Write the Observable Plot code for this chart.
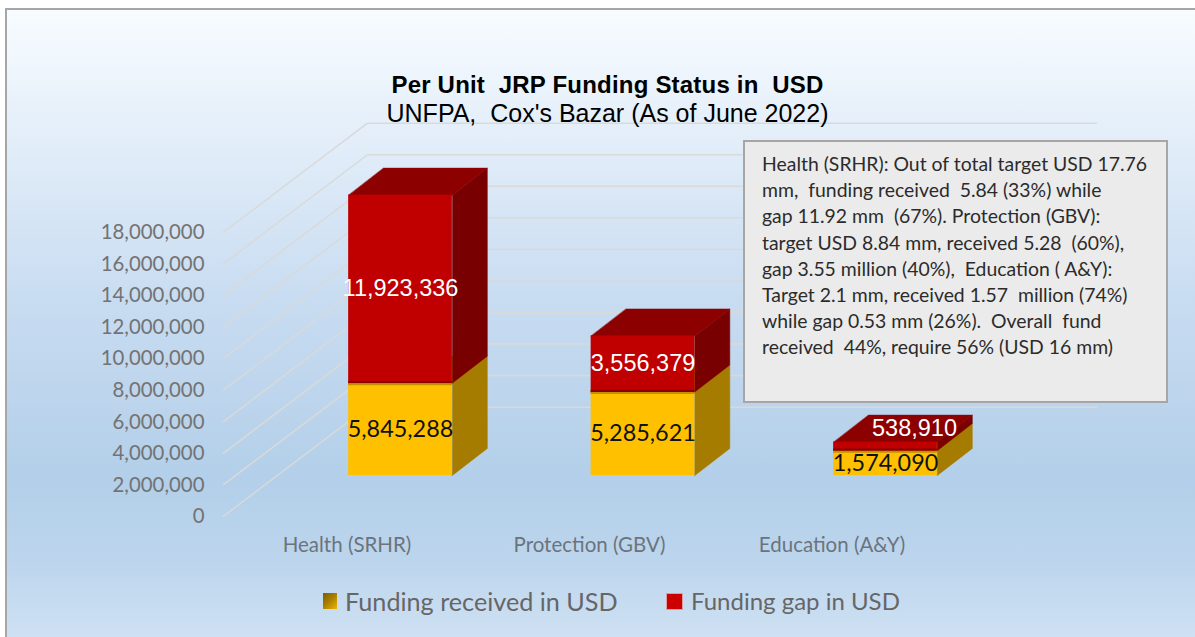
<!DOCTYPE html>
<html><head><meta charset="utf-8">
<script src="https://cdn.jsdelivr.net/npm/d3@7"></script>
<script src="https://cdn.jsdelivr.net/npm/@observablehq/plot@0.6"></script>
<style>
html,body{margin:0;padding:0;background:#fff;overflow:hidden;width:1195px;height:637px}
#panel{position:absolute;left:5px;top:8px;width:1190px;height:629px;border-left:2.5px solid #a6a6a6;border-top:2.5px solid #a6a6a6;box-sizing:border-box;
background:linear-gradient(180deg,#f8fcff 0,#e9f2fb 90px,#c8dcf1 290px,#b3cfe9 470px,#bcd5ed 550px,#cfe1f3 629px)}
#chart{position:absolute;left:0;top:118px}
#chart svg{display:block;background:transparent}
#title{position:absolute;left:0;top:70px;width:1215px;text-align:center;color:#000;font-family:"Liberation Sans",sans-serif;white-space:pre}
#title .a{font-weight:bold;font-size:24px;letter-spacing:.2px;line-height:29px;}
#title .b{font-size:25px;line-height:29px;}
#note{position:absolute;left:743px;top:140px;width:425px;height:263px;box-sizing:border-box;background:#ebebeb;border:2.5px solid #a6a6a6;padding:9px 0 0 17px;font-family:Lato,sans-serif;font-size:19.4px;line-height:26.2px;color:#2b2b2b;white-space:pre}
.lg{position:absolute;top:585px;font-family:Lato,sans-serif;line-height:32px;color:#666;white-space:nowrap}
.sw{position:absolute;top:593px;box-sizing:border-box}
</style></head><body>
<div id="panel"></div>
<div id="chart"></div>
<div id="title"></div>
<div id="note"></div>
<script>
const categories = ["Health (SRHR)", "Protection (GBV)", "Education (A&Y)"];
const received = [5845288, 5285621, 1574090];
const gap = [11923336, 3556379, 538910];
const yTicks = [0, 2e6, 4e6, 6e6, 8e6, 10e6, 12e6, 14e6, 16e6, 18e6];
const titleText = "Per Unit  JRP Funding Status in  USD";
const subtitleText = "UNFPA,  Cox's Bazar (As of June 2022)";
const noteLines = [
  "Health (SRHR): Out of total target USD 17.76",
  "mm,  funding received  5.84 (33%) while",
  "gap 11.92 mm  (67%). Protection (GBV):",
  "target USD 8.84 mm, received 5.28  (60%),",
  "gap 3.55 million (40%),  Education ( A&Y):",
  "Target 2.1 mm, received 1.57  million (74%)",
  "while gap 0.53 mm (26%).  Overall  fund",
  "received  44%, require 56% (USD 16 mm)"
];
const legendLabels = ["Funding received in USD", "Funding gap in USD"];

// projection of the pseudo-3D box, in scale units
const barHalf = 0.2138, barDepthX = 0.1443, barDepthY = 1.714e6;
const wallFrontX = -0.7299, wallBackX = -0.136, wallRightX = 2.870, wallDepthY = 6.91e6;
const floorLift = 2.58e6;

const rows = categories.map((c, i) => ({
  i, c,
  b0: floorLift, b1: floorLift + received[i],
  g0: floorLift + received[i], g1: floorLift + received[i] + gap[i],
  received: received[i], gap: gap[i]
}));
const sideFace = (v0, v1) => rows.flatMap(r => {
  const x = r.i + barHalf;
  return [[x, r[v0]], [x + barDepthX, r[v0] + barDepthY], [x + barDepthX, r[v1] + barDepthY], [x, r[v1]]].map(([x, y]) => ({id: r.i, x, y}));
});
const topFace = (v) => rows.flatMap(r => {
  const a = r.i - barHalf, b = r.i + barHalf;
  return [[a, r[v]], [b, r[v]], [b + barDepthX, r[v] + barDepthY], [a + barDepthX, r[v] + barDepthY]].map(([x, y]) => ({id: r.i, x, y}));
});
const grid = yTicks.flatMap(v => [
  {id: v, x: wallFrontX, y: v},
  {id: v, x: wallBackX, y: v + wallDepthY},
  {id: v, x: wallRightX, y: v + wallDepthY}
]);
const poly = (data, fill) => Plot.line(data, {x: "x", y: "y", z: "id", fill, stroke: fill, strokeWidth: 0.5, curve: "linear-closed"});
const fmt = d3.format(",");

const plot = Plot.plot({
  width: 1195, height: 450,
  marginLeft: 205, marginRight: 0, marginTop: 113.7, marginBottom: 52.3,
  style: {background: "transparent", overflow: "visible"},
  x: {type: "linear", domain: [-0.8041, 3.2784], axis: null},
  y: {type: "linear", domain: [0, 18e6], axis: null},
  marks: [
    Plot.line(grid, {x: "x", y: "y", z: "id", stroke: "#d9d9d9", strokeWidth: 1.5}),
    Plot.axisY(yTicks, {anchor: "left", tickSize: 0, tickPadding: 1, tickFormat: fmt, label: null, dy: 0.5, fontSize: 20.4, fontFamily: "Lato", fill: "#737373"}),
    Plot.axisX([0, 1, 2], {anchor: "bottom", tickSize: 0, tickPadding: 21, tickFormat: i => categories[i], label: null, dx: -53.5, fontSize: 20.5, fontFamily: "Lato", fill: "#6b747d"}),
    poly(sideFace("b0", "b1"), "#a67c00"),
    poly(topFace("b1"), "#c49000"),
    Plot.rect(rows, {x1: d => d.i - barHalf, x2: d => d.i + barHalf, y1: "b0", y2: "b1", fill: "#ffc000"}),
    poly(sideFace("g0", "g1"), "#780000"),
    poly(topFace("g1"), "#8c0000"),
    Plot.rect(rows, {x1: d => d.i - barHalf, x2: d => d.i + barHalf, y1: "g0", y2: "g1", fill: "#c00000"}),
    Plot.ruleY(rows, {y: "g0", x1: d => d.i - barHalf, x2: d => d.i + barHalf, stroke: "#8a0000", strokeWidth: 2.5, dy: -1}),
    Plot.ruleY(rows, {y: "b1", x1: d => d.i - barHalf, x2: d => d.i + barHalf, stroke: "#c49000", strokeWidth: 2, dy: 1}),
    Plot.text(rows, {x: "i", y: d => (d.b0 + d.b1) / 2, text: d => fmt(d.received), fontFamily: "Lato", fontSize: 23.4, fill: "#111"}),
    Plot.text(rows.slice(0, 2), {x: "i", y: d => (d.g0 + d.g1) / 2, text: d => fmt(d.gap), dy: -1, fontFamily: "Liberation Sans", fontSize: 23.5, fill: "#fff"}),
    Plot.text(rows.slice(2), {x: "i", y: d => (d.g0 + d.g1) / 2, text: d => fmt(d.gap), dx: 29, dy: -18, fontFamily: "Liberation Sans", fontSize: 23.5, fill: "#fff"})
  ]
});
document.getElementById("chart").append(plot);

const t = document.getElementById("title");
t.innerHTML = "";
[["a", titleText], ["b", subtitleText]].forEach(([cls, s]) => {
  const d = document.createElement("div"); d.className = cls; d.textContent = s; t.append(d);
});
document.getElementById("note").textContent = noteLines.join("\n");

[[345, legendLabels[0], 25.2], [691, legendLabels[1], 24]].forEach(([left, s, size]) => {
  const d = document.createElement("div"); d.className = "lg"; d.style.left = left + "px"; d.style.fontSize = size + "px"; d.textContent = s; document.body.append(d);
});
const s1 = document.createElement("div"); s1.className = "sw";
s1.style.cssText = "left:323px;width:14px;height:16px;background:linear-gradient(135deg,#7f5c00,#a67c00 45%,#f0b400)";
const s2 = document.createElement("div"); s2.className = "sw";
s2.style.cssText = "left:666px;width:17px;height:17px;background:#cc0000;border:1px solid #d9a0a0";
document.body.append(s1, s2);
</script>
</body></html>
